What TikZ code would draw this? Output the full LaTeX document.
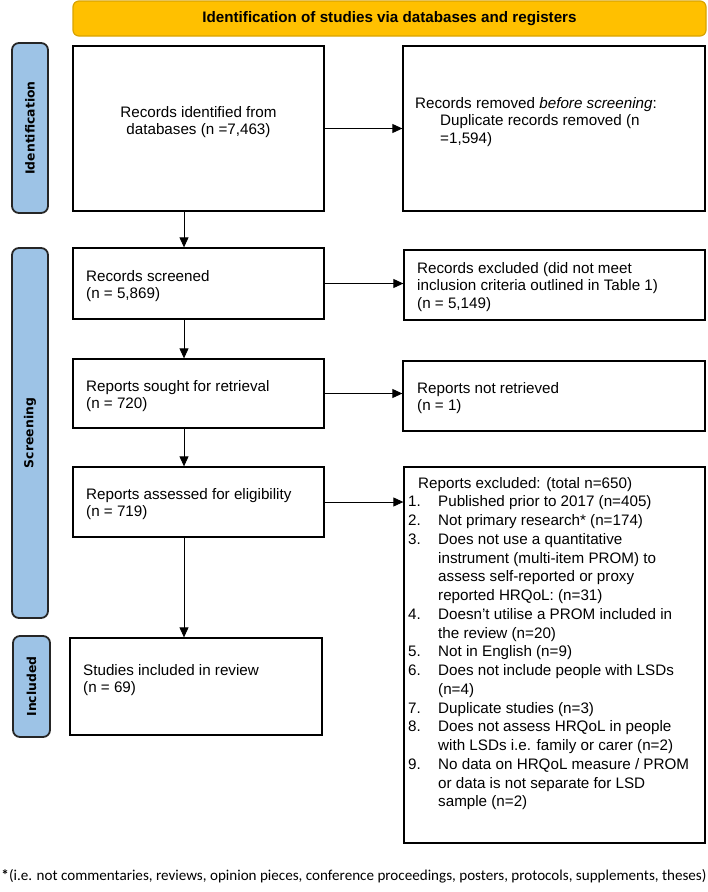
\documentclass[tikz,border=0pt]{standalone}
\usepackage{graphicx}
\usepackage{fontspec}
\setmainfont{Liberation Sans}
\newfontfamily\labelfont{DejaVu Sans}
\newfontfamily\notefont{Carlito}
\usetikzlibrary{arrows.meta}
\definecolor{gold}{HTML}{FFC000}
\definecolor{goldedge}{HTML}{D9A300}
\definecolor{phase}{HTML}{9DC3E6}
\begin{document}
\begin{tikzpicture}[x=1pt,y=-1pt,
  box/.style={draw=black, line width=1.3pt, inner sep=0pt},
  phasebox/.style={draw=black!85, line width=1.8pt, rounded corners=7pt, fill=phase, rotate=90, inner sep=0pt,
    font=\labelfont\bfseries\fontsize{12.4}{14}\selectfont},
  txt/.style={inner sep=0pt, anchor=north west, align=left, font=\fontsize{15.2}{17.5}\selectfont},
  arr/.style={line width=0.9pt, -{Triangle[length=10pt,width=9pt]}}]
\useasboundingbox (0,0) rectangle (708,892);

% title bar
\node[draw=goldedge, fill=gold, rounded corners=6pt, line width=1.2pt, minimum width=633pt, minimum height=35pt,
  inner sep=0pt, font=\bfseries\fontsize{15.2}{17}\selectfont] (title) at (389.5,18.5)
  {Identification of studies via databases and registers};

% phase labels
\node[phasebox, minimum width=170pt, minimum height=36pt] (pid) at (30,128) {Identification};
\node[phasebox, minimum width=370pt, minimum height=36pt] (psc) at (30,433) {Screening};
\node[phasebox, minimum width=101pt, minimum height=37pt] (pin) at (31.5,686.5) {Included};

% boxes
\node[box, minimum width=251pt, minimum height=165pt] (A) at (198.5,128.5) {};
\node[box, minimum width=302pt, minimum height=165pt] (B) at (554,128.5) {};
\node[box, minimum width=251pt, minimum height=71pt] (C) at (198.5,283.5) {};
\node[box, minimum width=301pt, minimum height=70pt] (D) at (554.5,285) {};
\node[box, minimum width=251pt, minimum height=69pt] (E) at (198.5,393.5) {};
\node[box, minimum width=302pt, minimum height=70pt] (F) at (554,396) {};
\node[box, minimum width=251pt, minimum height=70pt] (G) at (198.5,502) {};
\node[box, minimum width=301pt, minimum height=376pt] (H) at (554.5,655) {};
\node[box, minimum width=252pt, minimum height=97pt] (I) at (196,686.5) {};

% texts
\node[txt, anchor=north, align=center] (tA) at (198.5,106) {Records identified from\\databases (n =7,463)};
\node[txt] (tB) at (415,97) {Records removed \textit{before screening}:\\\hspace*{25pt}Duplicate records removed (n\\\hspace*{25pt}=1,594)};
\node[txt] (tC) at (86,270) {Records screened\\(n = 5,869)};
\node[txt] (tD) at (417,262) {Records excluded (did not meet\\inclusion criteria outlined in Table 1)\\(n = 5,149)};
\node[txt] (tE) at (86,380) {Reports sought for retrieval\\(n = 720)};
\node[txt] (tF) at (417,382) {Reports not retrieved\\(n = 1)};
\node[txt] (tG) at (86,488) {Reports assessed for eligibility\\(n = 719)};
\node[txt, font=\fontsize{15.2}{18.75}\selectfont] (tH) at (408,477) {%
\hspace*{10pt}Reports excluded: (total n=650)\\
\makebox[30pt][l]{1.}Published prior to 2017 (n=405)\\
\makebox[30pt][l]{2.}Not primary research* (n=174)\\
\makebox[30pt][l]{3.}Does not use a quantitative\\
\hspace*{30pt}instrument (multi-item PROM) to\\
\hspace*{30pt}assess self-reported or proxy\\
\hspace*{30pt}reported HRQoL: (n=31)\\
\makebox[30pt][l]{4.}Doesn’t utilise a PROM included in\\
\hspace*{30pt}the review (n=20)\\
\makebox[30pt][l]{5.}Not in English (n=9)\\
\makebox[30pt][l]{6.}Does not include people with LSDs\\
\hspace*{30pt}(n=4)\\
\makebox[30pt][l]{7.}Duplicate studies (n=3)\\
\makebox[30pt][l]{8.}Does not assess HRQoL in people\\
\hspace*{30pt}with LSDs i.e. family or carer (n=2)\\
\makebox[30pt][l]{9.}No data on HRQoL measure / PROM\\
\hspace*{30pt}or data is not separate for LSD\\
\hspace*{30pt}sample (n=2)};
\node[txt] (tI) at (83,664) {Studies included in review\\(n = 69)};

% footnote
\node[inner sep=0pt, font=\notefont\fontsize{13.5}{16}\selectfont] (note) at (354,876)
  {\resizebox{705pt}{!}{\textbf{*}(i.e. not commentaries, reviews, opinion pieces, conference proceedings, posters, protocols, supplements, theses)}};

% connectors
\coordinate (colx) at (184,0);
\draw[arr] (A.east) -- (A.east -| B.west);
\draw[arr] (C.east) -- (C.east -| D.west);
\draw[arr] (E.east) -- (E.east -| F.west);
\draw[arr] (G.east) -- (G.east -| H.west);
\draw[arr] (A.south -| colx) -- (C.north -| colx);
\draw[arr] (C.south -| colx) -- (E.north -| colx);
\draw[arr] (E.south -| colx) -- (G.north -| colx);
\draw[arr] (G.south -| colx) -- (I.north -| colx);
\end{tikzpicture}
\end{document}
